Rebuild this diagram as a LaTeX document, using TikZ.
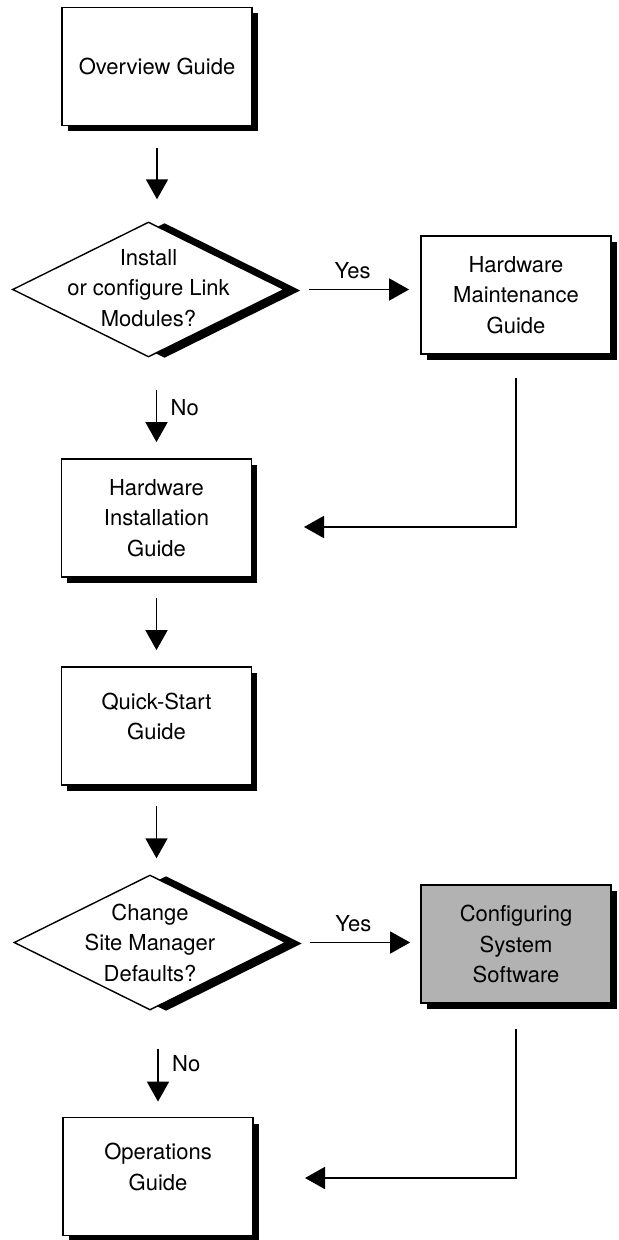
\documentclass[tikz,border=0pt]{standalone}
\usepackage{fontspec}
\setmainfont{TeX Gyre Heros}
\usetikzlibrary{arrows.meta,shapes.geometric,shadows}

\begin{document}
\begin{tikzpicture}[x=0.5pt,y=-0.5pt,
    font=\fontsize{11pt}{15.25pt}\selectfont,
    guide/.style={draw,line width=0.9pt,fill=white,align=center,
      minimum width=95pt,minimum height=59pt,
      drop shadow={shadow xshift=2.75pt,shadow yshift=-3pt,fill=black,opacity=1}},
    raised/.style={text depth=9.5pt},
    decision/.style={diamond,draw,line width=0.7pt,fill=white,inner sep=0pt,
      minimum width=136pt,minimum height=67.5pt,
      drop shadow={shadow xshift=8pt,shadow yshift=-0.5pt,fill=black,opacity=1}},
    question/.style={align=center,inner sep=0pt},
    flow/.style={-{Triangle[length=10pt,width=11pt]},line width=0.9pt,
      shorten <=10pt,shorten >=8pt}]
  \useasboundingbox (0,0) rectangle (618,1240);
  \path
    (157,66.5) node[guide] (overview) {Overview Guide}
    (148.5,289.5) node[decision] (install) {}
    (516,295) node[guide] (maint) {Hardware\\Maintenance\\Guide}
    (156.5,518) node[guide] (hwinst) {Hardware\\Installation\\Guide}
    (156.5,726) node[guide,raised] (quick) {Quick-Start\\Guide}
    (150,942.5) node[decision] (change) {}
    (516,944) node[guide,fill=black!30] (config) {Configuring\\System\\Software}
    (158,1176.5) node[guide,raised] (ops) {Operations\\Guide};
  \node[question] (installq) at (148.5,288) {Install\\or configure Link\\Modules?};
  \node[question] (changeq) at (change) {Change\\Site Manager\\Defaults?};
  \coordinate (maintret) at (304,527);
  \coordinate (configret) at (305,1178);
  \begin{scope}[flow]
    \draw[shorten <=11pt,shorten >=11pt] (overview.south) to (overview.south |- install.north);
    \draw[shorten <=12pt,shorten >=5.5pt] (install.east) to node[above=1.5pt] {Yes} (install.east -| maint.west);
    \draw[shorten <=16pt] (hwinst.north |- install.south) to node[right=3.3pt] {No} (hwinst.north);
    \draw (hwinst.south) to (quick.north);
    \draw (quick.south) to (quick.south |- change.north);
    \draw[shorten <=11.5pt,shorten >=5pt] (change.east) to node[above=1.5pt] {Yes} (change.east -| config.west);
    \draw[shorten <=19pt,shorten >=7.5pt] (ops.north |- change.south) to node[right=3.3pt] {No} (ops.north);
    \draw[shorten <=11.5pt,shorten >=0pt] (maint.south) |- (maintret);
    \draw[shorten <=12.5pt,shorten >=0pt] (config.south) |- (configret);
  \end{scope}
\end{tikzpicture}
\end{document}
